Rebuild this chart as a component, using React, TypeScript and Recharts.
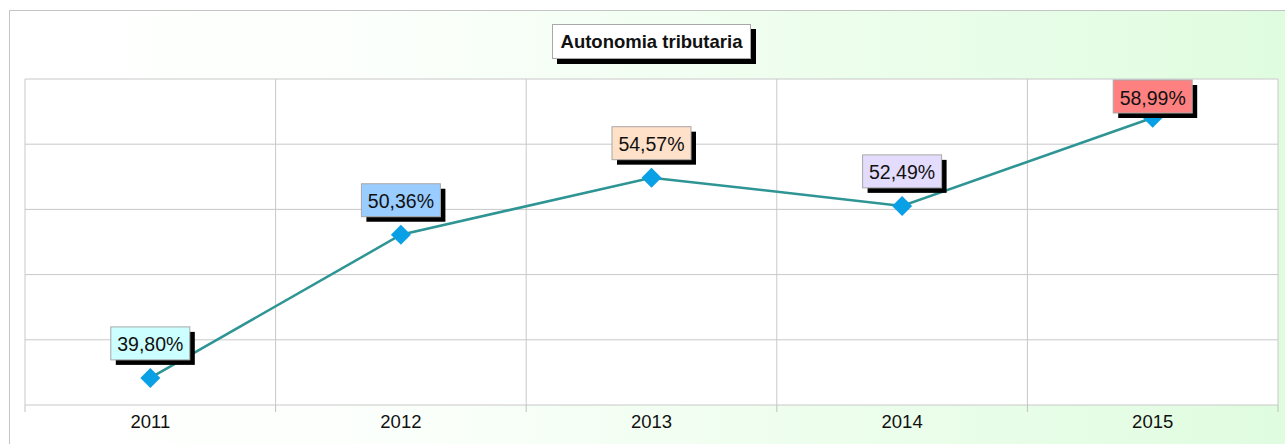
import { LineChart, Line, XAxis, YAxis, CartesianGrid, LabelList } from 'recharts';

const years = ['2011', '2012', '2013', '2014', '2015'];
const values = [39.8, 50.36, 54.57, 52.49, 58.99];
const labelFills = ['#ccffff', '#99ccff', '#ffe0c8', '#e4dcfc', '#ff8080'];
const yTicks = [37.8, 42.61, 47.42, 52.23, 57.04, 61.85];
const title = 'Autonomia tributaria';

const data = years.map((y, i) => ({ x: Number(y), value: values[i] }));
const yearNums = years.map(Number);
const boundaries = [yearNums[0] - 0.5, ...yearNums.map(y => y + 0.5)];
const xDomain = [boundaries[0], boundaries[boundaries.length - 1]];

const PLOT_TOP = 79;
const FONT = "'Liberation Sans', Arial, sans-serif";

const fmt = (v: number) => v.toFixed(2).replace('.', ',') + '%';

const Diamond = (props: { cx?: number; cy?: number }) => {
    const { cx, cy } = props;
    if (cx == null || cy == null) return null;
    const r = 10;
    return (
        <polygon
            points={`${cx},${cy - r} ${cx + r},${cy} ${cx},${cy + r} ${cx - r},${cy}`}
            fill="#0aa0e6"
        />
    );
};

const ValueLabel = (props: any) => {
    const { x, y, value, index } = props;
    const w = 79;
    const h = 33;
    let top = y - 18 - h;
    if (top < PLOT_TOP + 1) top = PLOT_TOP + 1;
    const left = x - w / 2;
    return (
        <g>
            <rect x={left + 5} y={top + 5} width={w} height={h} fill="#000" />
            <rect x={left} y={top} width={w} height={h} fill={labelFills[index]} stroke="#a8a8a8" strokeWidth={1} />
            <text
                x={x}
                y={top + h / 2 + 1}
                textAnchor="middle"
                dominantBaseline="central"
                fontSize={19.5}
                fill="#111"
                fontFamily={FONT}
            >
                {fmt(value)}
            </text>
        </g>
    );
};

export default function App() {
    return (
        <div style={{ position: 'absolute', left: 0, top: 0, width: 1285, height: 444, overflow: 'hidden', background: '#fff' }}>
            <div
                style={{
                    position: 'absolute',
                    left: 9,
                    top: 10,
                    width: 1300,
                    height: 460,
                    border: '1px solid #c4c4c4',
                    background: 'linear-gradient(to right, #ffffff 0%, #fbfffb 30%, #eefeee 60%, #dffcdf 100%)',
                }}
            />
            <div style={{ position: 'absolute', left: 0, top: 0 }}>
                <LineChart width={1285} height={444} data={data} margin={{ top: PLOT_TOP, right: 7, left: 25, bottom: 0 }}>
                    <CartesianGrid xAxisId="grid" stroke="#c8c8c8" fill="#ffffff" />
                    <XAxis
                        xAxisId="grid"
                        dataKey="x"
                        type="number"
                        domain={xDomain}
                        ticks={boundaries}
                        height={1}
                        tickFormatter={() => ''}
                        tickSize={7}
                        tickLine={{ stroke: '#c0c0c0' }}
                        axisLine={false}
                        interval={0}
                    />
                    <XAxis
                        xAxisId="labels"
                        dataKey="x"
                        type="number"
                        domain={xDomain}
                        ticks={yearNums}
                        height={38}
                        tickLine={false}
                        axisLine={false}
                        tickMargin={3}
                        interval={0}
                        tick={{ fill: '#111', fontSize: 18.5, fontFamily: FONT }}
                    />
                    <YAxis hide domain={[yTicks[0], yTicks[yTicks.length - 1]]} ticks={yTicks} />
                    <Line
                        xAxisId="grid"
                        dataKey="value"
                        stroke="#2e9494"
                        strokeWidth={2.5}
                        dot={<Diamond />}
                        activeDot={false}
                        isAnimationActive={false}
                    >
                        <LabelList dataKey="value" content={<ValueLabel />} />
                    </Line>
                </LineChart>
            </div>
            <div
                style={{
                    position: 'absolute',
                    left: 552,
                    top: 24,
                    width: 199,
                    height: 35,
                    boxSizing: 'border-box',
                    border: '1px solid #a8a8a8',
                    background: '#fff',
                    boxShadow: '5px 5px 0 #000',
                    fontFamily: FONT,
                    fontWeight: 'bold',
                    fontSize: 18.5,
                    color: '#111',
                    display: 'flex',
                    alignItems: 'center',
                    justifyContent: 'center',
                }}
            >
                {title}
            </div>
        </div>
    );
}
